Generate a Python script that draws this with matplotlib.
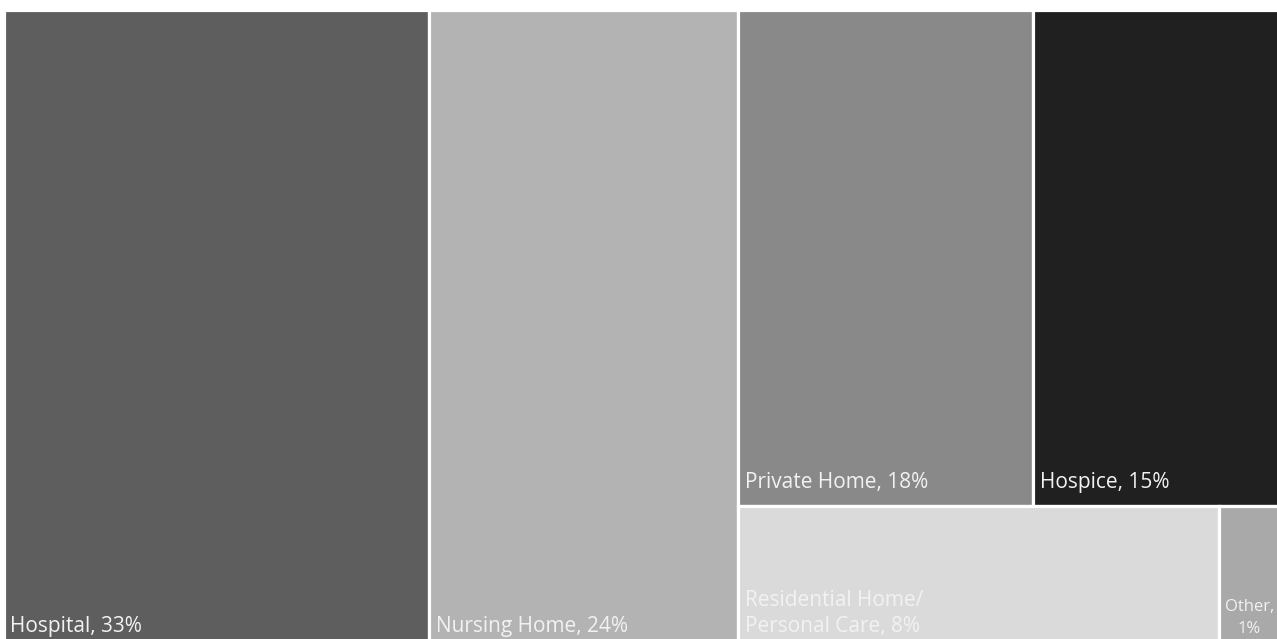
import matplotlib.pyplot as plt
from matplotlib.patches import Rectangle

# place of death shares (%)
labels = ["Hospital", "Nursing Home", "Private Home", "Hospice",
          "Residential Home/\nPersonal Care", "Other"]
values = [33, 24, 18, 15, 8, 1]
colors = ["#5e5e5e", "#b3b3b3", "#898989", "#202020", "#dadada", "#a9a9a9"]

# first two take full-height columns, the rest share the last column in two rows
top_row = [2, 3]
bottom_row = [4, 5]

plt.rcParams['font.family'] = ['Open Sans', 'DejaVu Sans']

fig = plt.figure(figsize=(12.77, 6.39), dpi=100)
ax = fig.add_axes([3.5 / 1277, -2 / 639, 1 - 1.5 / 1277, 631.5 / 639])
ax.set_xlim(0, 1)
ax.set_ylim(0, 1)
ax.axis('off')

total = sum(values)
rects = {}
x = 0.0
for i in (0, 1):
    w = values[i] / total
    rects[i] = (x, 0.0, w, 1.0)
    x += w

col_w = 1.0 - x
rest = sum(values[i] for i in top_row + bottom_row)
h_top = sum(values[i] for i in top_row) / rest
for row, y0, h in ((top_row, 1.0 - h_top, h_top), (bottom_row, 0.0, 1.0 - h_top)):
    s = sum(values[i] for i in row)
    xx = x
    for i in row:
        w = col_w * values[i] / s
        rects[i] = (xx, y0, w, h)
        xx += w

for i, (rx, ry, rw, rh) in rects.items():
    ax.add_patch(Rectangle((rx, ry), rw, rh, facecolor=colors[i],
                           edgecolor='white', linewidth=2.3))
    pad_y = 9 if i in top_row else 3
    if labels[i] == "Other":
        # narrow box: smaller, centred two-line label
        ax.annotate(f"{labels[i]},\n{values[i]}%", (rx + rw / 2, ry), xytext=(0.5, pad_y),
                    textcoords='offset points', ha='center', va='bottom',
                    color='#f2f2f2', fontsize=12, linespacing=1.45)
    else:
        ax.annotate(f"{labels[i]}, {values[i]}%", (rx, ry), xytext=(5, pad_y),
                    textcoords='offset points', ha='left', va='bottom',
                    color='#f2f2f2', fontsize=15, linespacing=1.3)

fig.savefig("out.png", dpi=100)
